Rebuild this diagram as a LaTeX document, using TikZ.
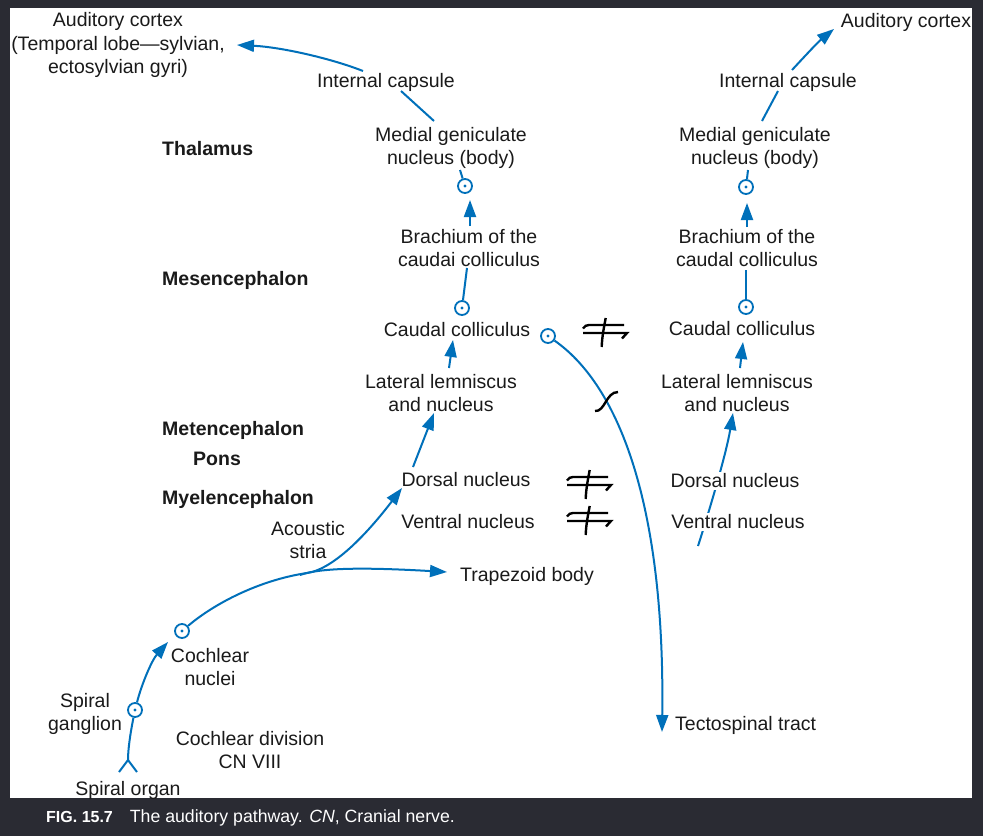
\documentclass[tikz,border=0pt]{standalone}
\usepackage{fontspec}
\setmainfont{Liberation Sans}
\usetikzlibrary{arrows.meta}
\definecolor{nblue}{RGB}{0,112,186}
\definecolor{darkbg}{RGB}{42,43,51}
\definecolor{ink}{RGB}{26,26,26}
\pgfdeclarelayer{bg}
\pgfsetlayers{bg,main}
\tikzset{
  lbl/.style={font=\fontsize{19.5}{23.5}\selectfont, text=ink, inner sep=1pt, align=center, yshift=-2pt},
  reg/.style={lbl, font=\fontsize{19.5}{23.5}\selectfont\bfseries, anchor=west},
  cell/.style={circle, draw=nblue, line width=1.8pt, minimum size=14pt, inner sep=0pt,
    path picture={\fill[nblue] (path picture bounding box.center) circle (1.7pt);}},
  fib/.style={draw=nblue, line width=2pt},
  fibarr/.style={fib, -{Triangle[length=17pt,width=12pt]}},
  cross/.style={draw=black, line width=2.4pt},
  xsym/.pic={
    \draw[cross] (-21,-3.5) .. controls (-19,-6) and (-18,-7) .. (-15,-7) -- (20,-7);
    \draw[cross] (-21,1) -- (23,1) -- (18,6.5);
    \draw[cross] (1.7,-14) .. controls (0,-5) and (-2,5) .. (-2.3,15);
  }
}
\begin{document}
\begin{tikzpicture}[x=1pt,y=-1pt]
\begin{pgfonlayer}{bg}
\fill[darkbg] (0,0) rectangle (983,836);
\fill[white] (10,8) rectangle (972,798);
\end{pgfonlayer}
\useasboundingbox (0,0) rectangle (983,836);

% ---------- left column ----------
\node[lbl] (ac1) at (118,43) {Auditory cortex\\(Temporal lobe—sylvian,\\ectosylvian gyri)};
\node[lbl] (ic1) at (386,80) {Internal capsule};
\node[lbl] (mgn1) at (451,146) {Medial geniculate\\nucleus (body)};
\node[cell] (c1) at (465,186) {};
\node[lbl] (bcc1) at (469,246) {Brachium of the\\caudai colliculus};
\node[cell] (c2) at (462,308) {};
\node[lbl] (cc1) at (457,328) {Caudal colliculus};
\node[cell] (c3) at (548,336) {};
\node[lbl] (ll1) at (441,391) {Lateral lemniscus\\and nucleus};
\node[lbl] (dn1) at (466,478) {Dorsal nucleus};
\node[lbl] (vn1) at (468,520) {Ventral nucleus};
\node[lbl] (as) at (308,538) {Acoustic\\stria};
\node[lbl] (tb) at (527,574) {Trapezoid body};
\node[cell] (c4) at (182,631) {};
\node[lbl] (cn) at (210,665) {Cochlear\\nuclei};
\node[cell] (c5) at (135,710) {};
\node[lbl] (sg) at (85,712) {Spiral\\ganglion};
\node[lbl] (so) at (128,788) {Spiral organ};
\node[lbl] (cd) at (250,748) {Cochlear division\\CN VIII};
\node[lbl, anchor=west] (ts) at (674,723) {Tectospinal tract};

% ---------- region labels ----------
\node[reg] (th) at (161,147) {Thalamus};
\node[reg] (mes) at (161,278) {Mesencephalon};
\node[reg] (met) at (161,428) {Metencephalon};
\node[reg] (pons) at (192,457) {Pons};
\node[reg] (mye) at (161,497) {Myelencephalon};

% ---------- right column ----------
\node[lbl] (ac2) at (906,20) {Auditory cortex};
\node[lbl] (ic2) at (788,80) {Internal capsule};
\node[lbl] (mgn2) at (755,146) {Medial geniculate\\nucleus (body)};
\node[cell] (c6) at (746,187) {};
\node[lbl] (bcc2) at (747,246) {Brachium of the\\caudal colliculus};
\node[cell] (c7) at (746,307) {};
\node[lbl] (cc2) at (742,327) {Caudal colliculus};
\node[lbl] (ll2) at (737,391) {Lateral lemniscus\\and nucleus};
\node[lbl, fill=white, inner sep=2pt] (dn2) at (735,479) {Dorsal nucleus};
\node[lbl, fill=white, inner sep=2pt] (vn2) at (738,520) {Ventral nucleus};

% ---------- caption ----------
\node[anchor=west, text=white, inner sep=0pt] (cap) at (46,818)
  {{\fontsize{16}{19}\selectfont\bfseries FIG. 15.7}\hspace*{17pt}{\fontsize{17.7}{21}\selectfont The auditory pathway. \textit{CN}, Cranial nerve.}};

% ---------- connector end points ----------
\coordinate (ic1s) at (363,71);  \coordinate (ac1e) at (237,45);
\coordinate (mgn1t) at (434,121); \coordinate (ic1b) at (401,91);
\coordinate (mgn1b) at (460,170);
\coordinate (bcc1t) at (470,226); \coordinate (c1b) at (470,200);
\coordinate (bcc1b) at (467,268);
\coordinate (ll1t) at (449,368); \coordinate (cc1b) at (453,340);
\coordinate (dn1a) at (413,467); \coordinate (ll1b) at (434,413);
\coordinate (br) at (307,573);   \coordinate (dn1w) at (402,488);
\coordinate (br0) at (300,575);  \coordinate (tbw) at (447,572);
\coordinate (c4a) at (168,642);
\coordinate (fork) at (128,760); \coordinate (soL) at (119,772); \coordinate (soR) at (137,772);
\coordinate (tst) at (662,732);
\coordinate (ic2t) at (792,70);  \coordinate (ac2e) at (834,29);
\coordinate (mgn2t) at (762,121); \coordinate (ic2b) at (778,91);
\coordinate (mgn2b) at (748,170);
\coordinate (bcc2t) at (747,227); \coordinate (c6b) at (747,203);
\coordinate (bcc2b) at (746,270);
\coordinate (ll2t) at (740,368); \coordinate (cc2b) at (743,342);
\coordinate (vs) at (698,546);   \coordinate (ll2b) at (733,413);

% ---------- connectors ----------
\begin{pgfonlayer}{bg}
\draw[fibarr] (ic1s) .. controls (330,58) and (280,47) .. (ac1e);
\draw[fib] (mgn1t) -- (ic1b);
\draw[fib] (c1) -- (mgn1b);
\draw[fibarr] (bcc1t) -- (c1b);
\draw[fib] (c2) -- (bcc1b);
\draw[fibarr] (ll1t) -- (cc1b);
\draw[fibarr] (dn1a) -- (ll1b);
\draw[fibarr] (c4) .. controls (215,603) and (260,580) .. (br) .. controls (335,569) and (370,530) .. (dn1w);
\draw[fibarr] (br0) .. controls (320,568) and (360,567) .. (tbw);
\draw[fibarr] (c5) .. controls (142,683) and (152,660) .. (c4a);
\draw[fib] (c5) .. controls (130,735) and (128,750) .. (fork);
\draw[fib] (soL) -- (fork) -- (soR);
\draw[fibarr] (c3) .. controls (625,390) and (665,520) .. (tst);

\draw[fibarr] (ic2t) .. controls (805,56) and (818,42) .. (ac2e);
\draw[fib] (mgn2t) -- (ic2b);
\draw[fib] (c6) -- (mgn2b);
\draw[fibarr] (bcc2t) -- (c6b);
\draw[fib] (c7) -- (bcc2b);
\draw[fibarr] (ll2t) -- (cc2b);
\draw[fibarr] (vs) .. controls (708,515) and (726,455) .. (ll2b);
\end{pgfonlayer}

% ---------- crossing marks ----------
\draw[cross] (595,411) .. controls (605,412) and (606,392) .. (618,392);
\pic at (604,332) {xsym};
\pic at (588,484) {xsym};
\pic at (588,520) {xsym};
\end{tikzpicture}
\end{document}
